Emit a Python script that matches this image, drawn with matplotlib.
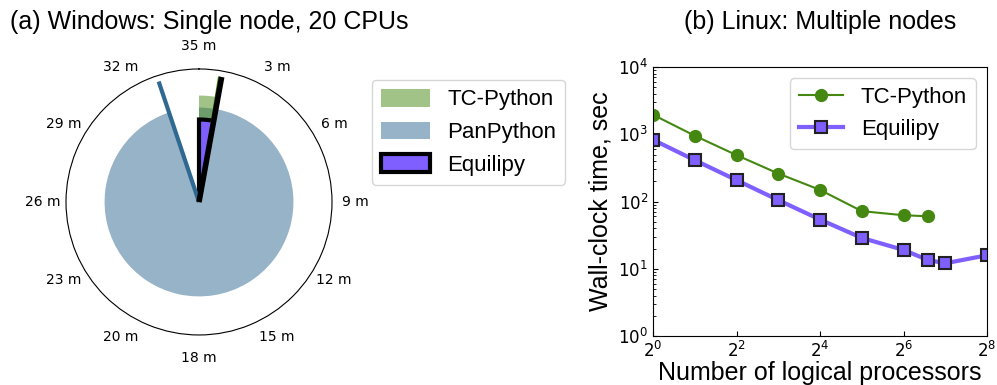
import numpy as np
import matplotlib
matplotlib.use('Agg')
import matplotlib.pyplot as plt
from matplotlib.patches import Patch

# ---- (a) single node, clock-style chart (minutes out of 35)
full_turn = 35.0
clock_labels = ['35 m', '3 m', '6 m', '9 m', '12 m', '15 m',
                '18 m', '20 m', '23 m', '26 m', '29 m', '32 m']
win_names = ['PanPython', 'TC-Python', 'Equilipy']
win_minutes = [33.2, 0.9, 1.0]
win_radius = [0.71, 0.80, 0.62]
hand_length = [0.955, 0.955, 0.955]

# ---- (b) multiple nodes
tc_procs = [1, 2, 4, 8, 16, 32, 64, 96]
tc_time = [1950, 950, 490, 261, 149, 72, 62.6, 60.4]
eq_procs = [1, 2, 4, 8, 16, 32, 64, 96, 128, 256]
eq_time = [828, 412, 208, 105, 54, 28.8, 19.1, 13.5, 12.1, 15.9]

green = '#448811'
blue = '#2f6890'
purple = '#7f5fff'
sans = 'Liberation Sans'


def to_rad(m):
    return np.asarray(m) / full_turn * 2 * np.pi


fig = plt.figure(figsize=(9.97, 3.85), dpi=100)

# ---------------- left: polar clock
ax1 = fig.add_axes([0.0662, 0.1299, 0.2668, 0.691], projection='polar')
ax1.set_theta_zero_location('N')
ax1.set_theta_direction(-1)
ax1.set_ylim(0, 1)

colors = {'PanPython': blue, 'TC-Python': green, 'Equilipy': purple}
for name, m, r in zip(win_names, win_minutes, win_radius):
    if name == 'Equilipy':
        ax1.bar(0, r, width=to_rad(m), align='edge', color=purple,
                edgecolor='black', linewidth=3, zorder=4)
    else:
        ax1.bar(0, r, width=to_rad(m), align='edge', color=colors[name],
                alpha=0.5, linewidth=0, zorder=3)

hand_style = {'PanPython': (blue, 3), 'TC-Python': (green, 2), 'Equilipy': ('black', 4)}
for name, m, L in zip(win_names, win_minutes, hand_length):
    c, lw = hand_style[name]
    th = to_rad(m)
    ax1.plot([th, th], [0, L], color=c, lw=lw, zorder=5 if name != 'TC-Python' else 4.5,
             solid_capstyle='butt')

ax1.set_xticks(np.linspace(0, 2 * np.pi, len(clock_labels), endpoint=False))
ax1.set_xticklabels(clock_labels, fontsize=10)
ax1.set_yticks([])
ax1.grid(False)
ax1.tick_params(axis='x', pad=6)

fig.text(0.21, 0.943, '(a) Windows: Single node, 20 CPUs', ha='center', va='center',
         fontsize=18, family=sans)

handles = [Patch(facecolor=green, alpha=0.5, edgecolor='none', label='TC-Python'),
           Patch(facecolor=blue, alpha=0.5, edgecolor='none', label='PanPython'),
           Patch(facecolor=purple, edgecolor='black', linewidth=3, label='Equilipy')]
fig.legend(handles=handles, loc='upper left', bbox_to_anchor=(372 / 997, 1 - 80 / 385),
           borderaxespad=0, prop={'family': sans, 'size': 16},
           handlelength=2.2, handleheight=0.85)

# ---------------- right: scaling
ax2 = fig.add_axes([0.655, 0.127, 0.335, 0.699])
ax2.plot(tc_procs, tc_time, '-o', color=green, lw=1.5, ms=8.5, label='TC-Python')
ax2.plot(eq_procs, eq_time, '-s', color=purple, lw=3, ms=9,
         markeredgecolor='#222222', markeredgewidth=1.5, label='Equilipy')
ax2.set_xscale('log', base=2)
ax2.set_yscale('log')
ax2.set_xlim(1, 256)
ax2.set_ylim(1, 1e4)
ax2.set_xticks([1, 4, 16, 64, 256])
ax2.set_xticklabels(['$2^{0}$', '$2^{2}$', '$2^{4}$', '$2^{6}$', '$2^{8}$'])
ax2.xaxis.set_minor_locator(matplotlib.ticker.NullLocator())
ax2.tick_params(which='both', direction='in', labelsize=12)
ax2.set_xlabel('Number of logical processors', fontsize=18, family=sans, labelpad=0)
ax2.set_ylabel('Wall-clock time, sec', fontsize=18, family=sans)
ax2.legend(loc='upper right', prop={'family': sans, 'size': 16})

fig.text(820 / 997, 0.943, '(b) Linux: Multiple nodes', ha='center', va='center',
         fontsize=18, family=sans)

fig.savefig('out.png', dpi=100)
